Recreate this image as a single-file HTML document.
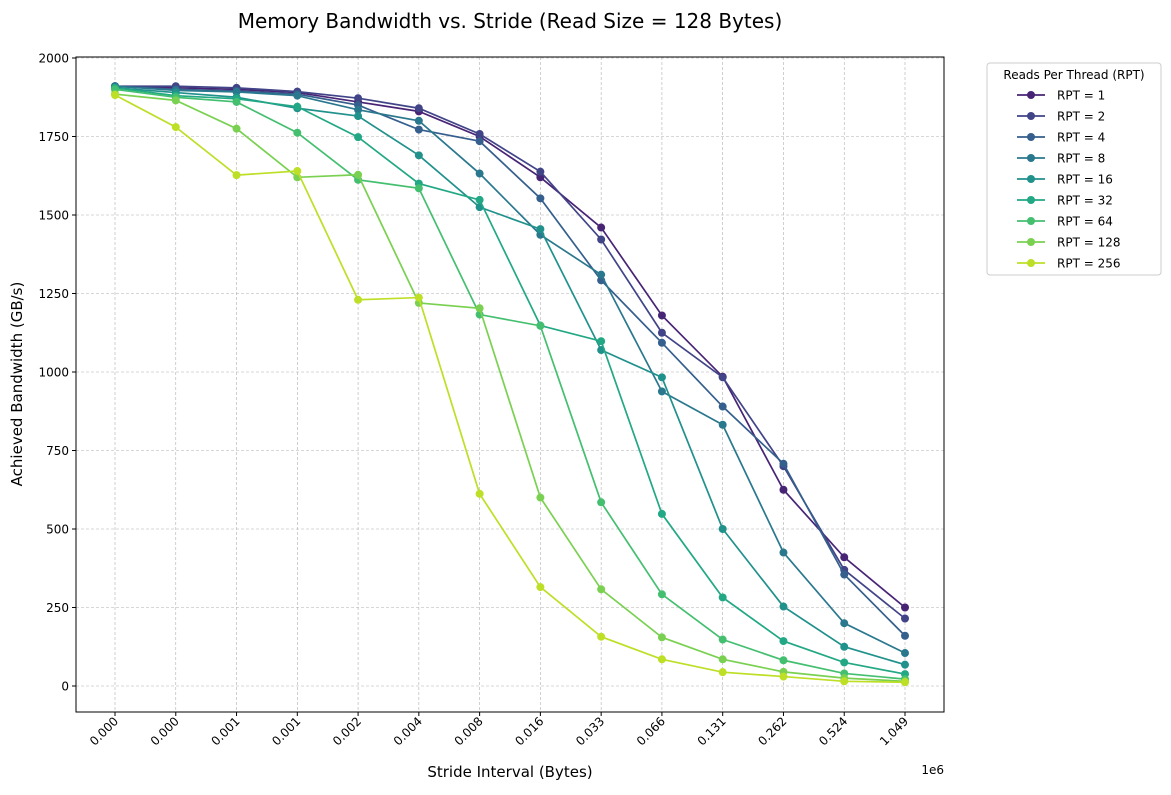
<!DOCTYPE html>
<html><head><meta charset="utf-8"><style>
body{margin:0;background:#fff;font-family:"Liberation Sans","DejaVu Sans",sans-serif}
svg text{font-family:"DejaVu Sans","Liberation Sans",sans-serif}
</style></head><body>
<svg id="c" width="1171" height="790">
<text x="510" y="28" font-size="20" text-anchor="middle">Memory Bandwidth vs. Stride (Read Size = 128 Bytes)</text>
<text x="510" y="777" font-size="15" text-anchor="middle">Stride Interval (Bytes)</text>
<text x="22" y="384" font-size="15" text-anchor="middle" transform="rotate(-90 22 384)">Achieved Bandwidth (GB/s)</text>
<text x="944" y="774" font-size="12" text-anchor="end">1e6</text>
<g id="grid"></g><g id="series"></g><g id="ticks"></g>
<rect x="76" y="57" width="868" height="655" fill="none" stroke="#000" stroke-width="1"/>
<g id="legend"></g>
</svg>
<script>
const categories=["0.000","0.000","0.001","0.001","0.002","0.004","0.008","0.016","0.033","0.066","0.131","0.262","0.524","1.049"];
const yTicks=[0,250,500,750,1000,1250,1500,1750,2000];
const seriesNames=["RPT = 1","RPT = 2","RPT = 4","RPT = 8","RPT = 16","RPT = 32","RPT = 64","RPT = 128","RPT = 256"];
const rpt1=[1910,1905,1900,1890,1860,1830,1750,1620,1460,1180,985,625,410,250];
const rpt2=[1910,1910,1905,1893,1872,1840,1758,1638,1422,1125,983,700,370,215];
const rpt4=[1910,1900,1895,1885,1850,1772,1735,1553,1292,1093,890,708,355,160];
const rpt8=[1910,1897,1892,1880,1835,1800,1632,1437,1310,938,832,425,200,105];
const rpt16=[1905,1890,1875,1840,1815,1690,1525,1455,1070,983,500,253,125,68];
const rpt32=[1905,1880,1870,1845,1748,1600,1548,1148,1098,548,282,143,75,38];
const rpt64=[1900,1875,1860,1762,1612,1585,1183,1147,585,292,148,82,40,22];
const rpt128=[1885,1865,1775,1620,1628,1220,1203,600,308,155,85,45,25,15];
const rpt256=[1882,1780,1627,1640,1230,1237,612,315,157,85,44,30,15,12];
const allSeries=[rpt1,rpt2,rpt4,rpt8,rpt16,rpt32,rpt64,rpt128,rpt256];
const colors=["#482475","#414487","#355f8d","#2a788e","#21918c","#22a884","#44bf70","#7ad151","#bddf26"];
const NS="http://www.w3.org/2000/svg";
const xS=i=>115+i*(905-115)/(categories.length-1);
const yS=v=>686-v*(686-58)/2000;
function mk(t,a,p){const e=document.createElementNS(NS,t);for(const k in a)e.setAttribute(k,a[k]);p.appendChild(e);return e;}
const grid=document.getElementById('grid'),ticks=document.getElementById('ticks'),ser=document.getElementById('series'),leg=document.getElementById('legend');
categories.forEach((c,i)=>{const x=xS(i);
const g=mk('line',{x1:x,x2:x,y1:57,y2:712,stroke:'#b0b0b0','stroke-width':0.6,'stroke-dasharray':'3,2'},grid);


const t=mk('line',{x1:x,x2:x,y1:712,y2:716,stroke:'#000'},ticks);


const l=mk('text',{x:x+4,y:722,'font-size':12,'text-anchor':'end',transform:`rotate(-45 ${x+4} 722)`},ticks);
l.textContent=c;

});
yTicks.forEach(v=>{const y=yS(v);
const g=mk('line',{x1:76,x2:944,y1:y,y2:y,stroke:'#b0b0b0','stroke-width':0.6,'stroke-dasharray':'3,2'},grid);


const t=mk('line',{x1:72,x2:76,y1:y,y2:y,stroke:'#000'},ticks);


const l=mk('text',{x:69,y:y+4.5,'font-size':12,'text-anchor':'end'},ticks);
l.textContent=v;

});
allSeries.forEach((s,k)=>{const g=mk('g',{},ser);


const pl=mk('polyline',{points:s.map((v,i)=>xS(i)+','+yS(v)).join(' '),fill:'none',stroke:colors[k],'stroke-width':1.7},g);


s.forEach((v,i)=>{const c=mk('circle',{cx:xS(i),cy:yS(v),r:4,fill:colors[k]},g);

});});
const box=mk('rect',{x:987,y:63,width:174,height:212,rx:3,fill:'#fff',stroke:'#ccc'},leg);


const lt=mk('text',{x:1074,y:79,'font-size':12,'text-anchor':'middle'},leg);
lt.textContent='Reads Per Thread (RPT)';


seriesNames.forEach((n,k)=>{const y=95+k*21;const g=mk('g',{},leg);


mk('line',{x1:1017,x2:1045,y1:y,y2:y,stroke:colors[k],'stroke-width':1.7},g);
mk('circle',{cx:1031,cy:y,r:4,fill:colors[k]},g);
const t=mk('text',{x:1057,y:y+4.5,'font-size':12},g);t.textContent=n;});
</script>
</body></html>
